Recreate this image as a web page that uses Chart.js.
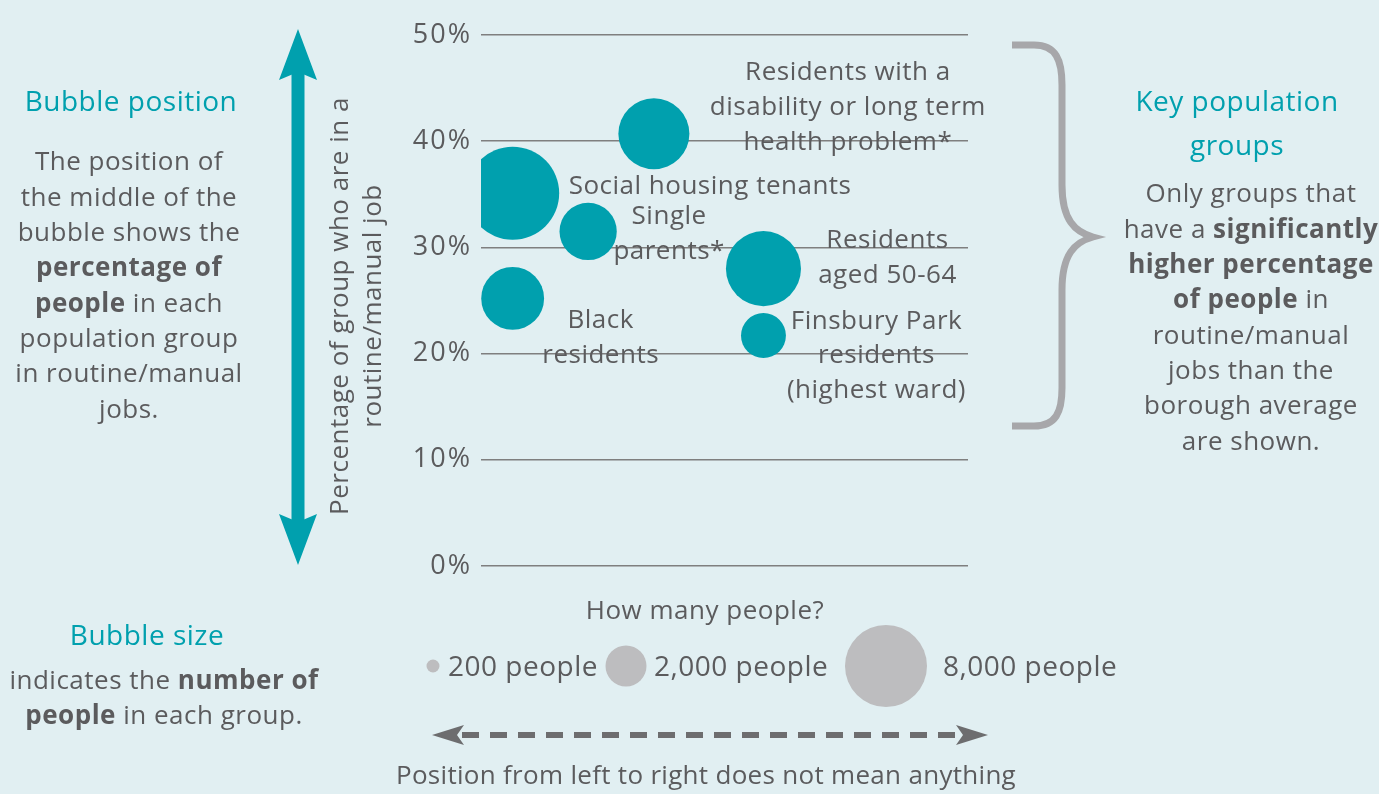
<!DOCTYPE html>
<html>
<head>
<meta charset="utf-8">
<script src="https://cdn.jsdelivr.net/npm/chart.js@4.4.1/dist/chart.umd.min.js"></script>
<style>
  html, body { margin: 0; padding: 0; background: #e1eff2; }
  canvas { display: block; }
</style>
</head>
<body>
<canvas id="chart" width="1379" height="794"></canvas>
<script>
// population groups (x position has no meaning, it only spreads the bubbles out)
const groups = ['Social housing tenants', 'Residents with a disability or long term health problem*', 'Single parents*', 'Black residents', 'Residents aged 50-64', 'Finsbury Park residents (highest ward)'];
const pctRoutine = [35.1, 40.7, 31.5, 25.2, 28.0, 21.7];
const people = [10300, 6000, 3900, 4700, 6700, 2400];
const xSlot = [6.5, 35.5, 22, 6.5, 58, 58];
const labelLines = [
  ['Social housing tenants'],
  ['Residents with a', 'disability or long term', 'health problem*'],
  ['Single', 'parents*'],
  ['Black', 'residents'],
  ['Residents', 'aged 50-64'],
  ['Finsbury Park', 'residents', '(highest ward)']
];
const yTicks = [0, 10, 20, 30, 40, 50];
const legendPeople = [200, 2000, 8000];
const legendLabels = ['200 people', '2,000 people', '8,000 people'];

const TEAL = '#00a0ae';
const GREY = '#5b5b5d';
const FONT = '"Open Sans", "Noto Sans", sans-serif';
const R_PER_SQRT = 0.4584; // bubble radius grows with square root of people

const radius = n => R_PER_SQRT * Math.sqrt(n);

function font(size, bold) {
  return (bold ? '700 ' : '400 ') + size + 'px ' + FONT;
}

// draw a centred line made of normal / bold pieces
function richLine(ctx, parts, cx, y, size, color) {
  let total = 0;
  parts.forEach(p => { ctx.font = font(size, p[1]); total += ctx.measureText(p[0]).width; });
  let x = cx - total / 2;
  ctx.fillStyle = color;
  ctx.textAlign = 'left';
  ctx.textBaseline = 'middle';
  parts.forEach(p => {
    ctx.font = font(size, p[1]);
    ctx.fillText(p[0], x, y);
    x += ctx.measureText(p[0]).width;
  });
}

const extras = {
  id: 'extras',
  beforeDraw(chart) {
    const ctx = chart.ctx;
    ctx.save();
    ctx.fillStyle = '#e1eff2';
    ctx.fillRect(0, 0, chart.width, chart.height);
    ctx.restore();
    // wider spacing for the tick labels drawn next
    ctx.letterSpacing = '2px';
  },
  afterDraw(chart) {
    const ctx = chart.ctx;
    ctx.save();
    ctx.letterSpacing = '0.5px';

    // bubble labels, placed next to each bubble
    const offsets = [
      { dx: 56, dy: [-7], align: 'left' },
      { dx: 194, dy: [-61, -26, 9] },
      { dx: 81, dy: [-15, 20] },
      { dx: 88, dy: [22, 57] },
      { dx: 124, dy: [-28, 7] },
      { dx: 113, dy: [-14, 20, 55] }
    ];
    const meta = chart.getDatasetMeta(0);
    ctx.font = font(26);
    ctx.fillStyle = GREY;
    ctx.textBaseline = 'middle';
    meta.data.forEach((pt, i) => {
      const o = offsets[i];
      ctx.textAlign = o.align || 'center';
      labelLines[i].forEach((line, j) => ctx.fillText(line, pt.x + o.dx, pt.y + o.dy[j]));
    });

    // left explanation
    richLine(ctx, [['Bubble position', 0]], 131, 103, 28, TEAL);
    const leftLines = [
      [['The position of', 0]],
      [['the middle of the', 0]],
      [['bubble shows the', 0]],
      [['percentage of', 1]],
      [['people', 1], [' in each', 0]],
      [['population group', 0]],
      [['in routine/manual', 0]],
      [['jobs.', 0]]
    ];
    leftLines.forEach((l, i) => richLine(ctx, l, 129, 163 + i * 35.3, 26, GREY));

    // right explanation
    richLine(ctx, [['Key population', 0]], 1237, 103, 28, TEAL);
    richLine(ctx, [['groups', 0]], 1237, 147, 28, TEAL);
    const rightLines = [
      [['Only groups that', 0]],
      [['have a ', 0], ['significantly', 1]],
      [['higher percentage', 1]],
      [['of people', 1], [' in', 0]],
      [['routine/manual', 0]],
      [['jobs than the', 0]],
      [['borough average', 0]],
      [['are shown.', 0]]
    ];
    rightLines.forEach((l, i) => richLine(ctx, l, 1251, 195 + i * 35.3, 26, GREY));

    // bubble size explanation
    richLine(ctx, [['Bubble size', 0]], 147, 637, 28, TEAL);
    richLine(ctx, [['indicates the ', 0], ['number of', 1]], 164, 682, 26, GREY);
    richLine(ctx, [['people', 1], [' in each group.', 0]], 164, 717, 26, GREY);

    // y axis title
    ctx.save();
    ctx.translate(341, 306);
    ctx.rotate(-Math.PI / 2);
    ctx.font = font(26);
    ctx.fillStyle = GREY;
    ctx.textAlign = 'center';
    ctx.textBaseline = 'middle';
    ctx.fillText('Percentage of group who are in a', 0, 0);
    ctx.fillText('routine/manual job', 0, 33);
    ctx.restore();

    // vertical double arrow
    ctx.fillStyle = TEAL;
    ctx.fillRect(291.5, 70, 13, 452);
    ctx.beginPath();
    ctx.moveTo(298, 29); ctx.lineTo(317, 80); ctx.lineTo(298, 72); ctx.lineTo(279, 80); ctx.closePath();
    ctx.fill();
    ctx.beginPath();
    ctx.moveTo(298, 565); ctx.lineTo(317, 514); ctx.lineTo(298, 522); ctx.lineTo(279, 514); ctx.closePath();
    ctx.fill();

    // brace
    ctx.strokeStyle = '#a7a7aa';
    ctx.lineWidth = 7;
    ctx.beginPath();
    ctx.moveTo(1012, 45);
    ctx.lineTo(1034, 45);
    ctx.bezierCurveTo(1056, 45, 1062, 60, 1062, 85);
    ctx.lineTo(1062, 185);
    ctx.bezierCurveTo(1062, 220, 1075, 232, 1093, 237);
    ctx.bezierCurveTo(1075, 242, 1062, 254, 1062, 290);
    ctx.lineTo(1062, 388);
    ctx.bezierCurveTo(1062, 412, 1056, 426, 1034, 426);
    ctx.lineTo(1012, 426);
    ctx.stroke();

    // bubble size legend
    richLine(ctx, [['How many people?', 0]], 705, 612, 26, GREY);
    const legX = [433, 626, 886];
    const legTextX = [448, 654, 943];
    legendPeople.forEach((n, i) => {
      ctx.fillStyle = '#bdbdbf';
      ctx.beginPath();
      ctx.arc(legX[i], 666, radius(n), 0, Math.PI * 2);
      ctx.fill();
      ctx.font = font(28);
      ctx.fillStyle = GREY;
      ctx.textAlign = 'left';
      ctx.textBaseline = 'middle';
      ctx.fillText(legendLabels[i], legTextX[i], 668);
    });

    // dashed left/right arrow
    ctx.strokeStyle = '#6d6d6f';
    ctx.fillStyle = '#6d6d6f';
    ctx.lineWidth = 6;
    ctx.setLineDash([17, 11]);
    ctx.beginPath();
    ctx.moveTo(462, 735); ctx.lineTo(960, 735);
    ctx.stroke();
    ctx.setLineDash([]);
    ctx.beginPath();
    ctx.moveTo(432, 735); ctx.lineTo(464, 725); ctx.lineTo(457, 735); ctx.lineTo(464, 745); ctx.closePath();
    ctx.fill();
    ctx.beginPath();
    ctx.moveTo(988, 735); ctx.lineTo(956, 725); ctx.lineTo(963, 735); ctx.lineTo(956, 745); ctx.closePath();
    ctx.fill();
    ctx.letterSpacing = '0.3px';
    richLine(ctx, [['Position from left to right does not mean anything', 0]], 706, 777, 26, GREY);

    ctx.restore();
  }
};

new Chart(document.getElementById('chart'), {
  type: 'bubble',
  data: {
    datasets: [{
      label: 'Key population groups',
      data: groups.map((g, i) => ({ x: xSlot[i], y: pctRoutine[i], r: radius(people[i]) })),
      backgroundColor: TEAL,
      borderWidth: 0
    }]
  },
  options: {
    responsive: false,
    animation: false,
    events: [],
    layout: { autoPadding: false, padding: { left: 400, right: 411, top: 35, bottom: 228 } },
    plugins: { legend: { display: false }, tooltip: { enabled: false } },
    scales: {
      x: { type: 'linear', min: 0, max: 100, display: false },
      y: {
        min: 0,
        max: 50,
        afterBuildTicks: s => { s.ticks = yTicks.map(v => ({ value: v })); },
        afterFit: s => { s.width = 81; s.paddingTop = 0; s.paddingBottom = 0; },
        border: { display: false },
        grid: { color: '#7f7f7f', lineWidth: 1.5, drawTicks: false },
        ticks: {
          padding: 9,
          color: GREY,
          font: { family: FONT, size: 27 },
          callback: v => v + '%'
        }
      }
    }
  },
  plugins: [extras]
});
</script>
</body>
</html>
